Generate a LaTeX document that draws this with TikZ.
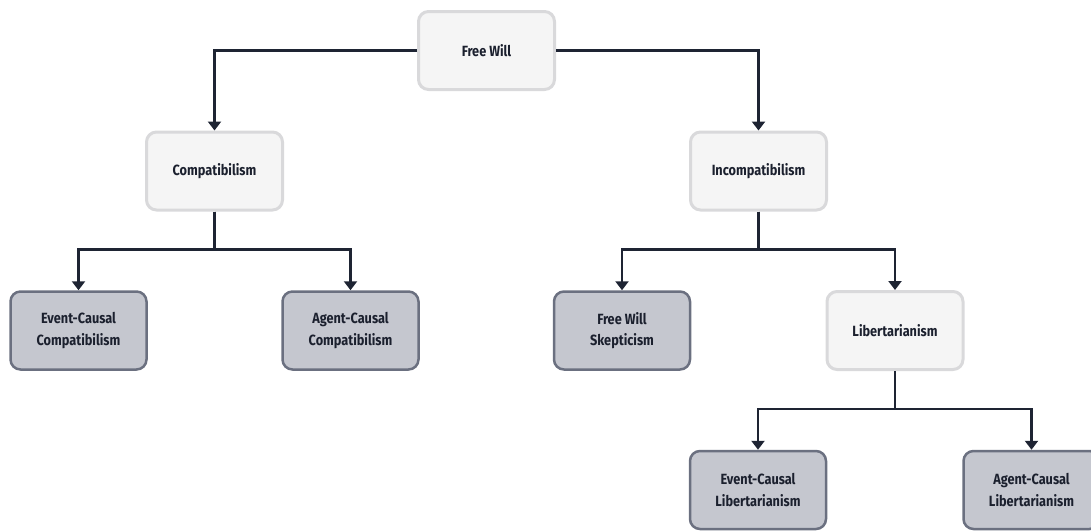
\documentclass[tikz,border=0pt]{standalone}
\usepackage{fontspec}
\setmainfont{Fira Sans}[FakeStretch=0.86]
\usepackage{xcolor}
\usepackage{tikz}
\usetikzlibrary{arrows.meta}
\definecolor{edgecol}{HTML}{1E2433}
\definecolor{lightfill}{HTML}{F5F5F5}
\definecolor{lightline}{HTML}{D9D9DB}
\definecolor{leaffill}{HTML}{C5C7CF}
\definecolor{leafline}{HTML}{6B7080}
\tikzset{
    box/.style = {rectangle, rounded corners=10pt, align=center, inner sep=2pt,
        minimum width=136pt, minimum height=78pt, font=\fontsize{14.8}{21.5}\selectfont\bfseries,
        text=edgecol!90!black},
    inner_node/.style = {box, draw=lightline, fill=lightfill, line width=3pt},
    leaf_node/.style = {box, draw=leafline, fill=leaffill, line width=2.5pt},
    conn/.style = {draw=edgecol, line width=2.2pt, -{Triangle[width=13pt,length=9pt]}}
}

\begin{document}
\begin{tikzpicture}[x=1pt,y=-1pt]
    \useasboundingbox (0,0) rectangle (1091,531);

    % top level
    \node [inner_node] (fw)     at (486.5,50.5) {Free Will};
    \node [inner_node] (comp)   at (214.5,171)  {Compatibilism};
    \node [inner_node] (incomp) at (758.5,171)  {Incompatibilism};

    % second level
    \node [leaf_node]  (ecc)  at (78.5,330.5)  {Event-Causal\\Compatibilism};
    \node [leaf_node]  (acc)  at (350.5,330.5) {Agent-Causal\\Compatibilism};
    \node [leaf_node]  (fws)  at (622,330.5)   {Free Will\\Skepticism};
    \node [inner_node] (lib)  at (895,330.5)   {Libertarianism};

    % third level
    \node [leaf_node]  (ecl)  at (758,490)     {Event-Causal\\Libertarianism};
    \node [leaf_node]  (acl)  at (1031.5,490)  {Agent-Causal\\Libertarianism};

    \draw [conn] (fw.west) -| (comp.north);
    \draw [conn] (fw.east) -| (incomp.north);
    \draw [conn] (comp.south) -- ++(0,38) -| (ecc.north);
    \draw [conn] (comp.south) -- ++(0,38) -| (acc.north);
    \draw [conn] (incomp.south) -- ++(0,38) -| (fws.north);
    \draw [conn] (incomp.south) -- ++(0,38) -| (lib.north);
    \draw [conn] (lib.south) -- ++(0,38) -| (ecl.north);
    \draw [conn] (lib.south) -- ++(0,38) -| (acl.north);
\end{tikzpicture}
\end{document}
